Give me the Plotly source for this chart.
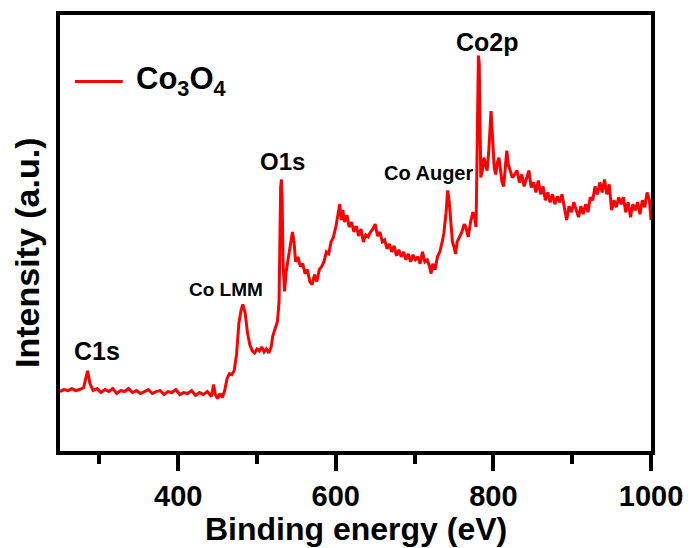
import plotly.graph_objects as go

# Binding energy (eV) and intensity (a.u.)
energy = [250, 255, 260, 265, 270, 275, 280, 285, 288, 292, 297, 302, 307, 312, 317, 322, 327, 332, 337, 342,
          347, 352, 357, 362, 367, 372, 377, 382, 387, 392, 397, 402, 407, 412, 417, 422, 427, 432, 437, 442,
          445, 447, 450, 453, 456, 459, 462, 465, 468, 471, 474, 477, 480, 482, 485, 488, 491, 494, 497, 500,
          503, 506, 509, 512, 515, 518, 520, 522, 524, 526, 528, 529, 530, 531, 532, 533, 535, 537, 539, 542,
          545, 547, 549, 552, 555, 558, 561, 564, 567, 570, 573, 576, 579, 582, 585, 588, 591, 594, 597, 600,
          603, 605, 607, 609, 611, 614, 617, 620, 623, 626, 629, 632, 635, 638, 641, 644, 647, 650, 653, 656,
          659, 662, 665, 668, 671, 674, 677, 680, 683, 686, 689, 692, 695, 698, 701, 704, 707, 710, 713, 716,
          719, 721, 723, 726, 729, 732, 735, 737, 740, 742, 744, 746, 748, 750, 752, 754, 757, 760, 763, 765,
          768, 771, 774, 776, 778, 779, 780, 781, 782, 783, 784, 786, 788, 790, 792, 794, 796, 797, 799, 801,
          803, 805, 807, 809, 811, 813, 815, 817, 819, 821, 824, 827, 830, 833, 836, 839, 842, 845, 848, 851,
          854, 857, 860, 863, 866, 869, 872, 875, 878, 881, 884, 887, 890, 893, 896, 899, 902, 905, 908, 911,
          914, 917, 920, 923, 926, 929, 932, 935, 938, 941, 944, 947, 950, 953, 956, 959, 962, 965, 968, 971,
          974, 977, 980, 983, 986, 989, 992, 995, 998, 1000]
intensity = [39, 41, 40, 42, 40, 41, 43, 60, 47, 40, 42, 38, 41, 39, 42, 37, 40, 39, 42, 38,
             40, 37, 39, 41, 37, 39, 40, 36, 39, 38, 41, 36, 38, 37, 40, 35, 38, 36, 39, 34,
             46, 36, 32, 37, 33, 40, 52, 57, 56, 60, 76, 108, 122, 127, 118, 98, 86, 80, 78, 82,
             80, 84, 79, 82, 78, 84, 95, 100, 106, 110, 130, 190, 245, 253, 230, 170, 140, 160, 170, 185,
             200, 190, 170, 175, 165, 168, 158, 162, 150, 147, 157, 150, 162, 165, 170, 180, 178, 190, 195, 205,
             220, 228, 212, 222, 210, 217, 205, 210, 200, 206, 196, 203, 190, 197, 195, 200, 203, 208, 196, 200,
             190, 192, 183, 188, 180, 186, 176, 182, 175, 180, 172, 178, 170, 177, 172, 175, 168, 180, 170, 172,
             165, 158, 168, 162, 175, 180, 190, 198, 220, 242, 230, 205, 190, 185, 178, 190, 195, 200, 208, 205,
             195, 210, 220, 215, 205, 260, 340, 378, 370, 300, 255, 262, 275, 268, 262, 280, 315, 322, 295, 265,
             258, 270, 275, 262, 250, 246, 265, 282, 268, 262, 255, 258, 262, 250, 258, 246, 255, 262, 245, 250,
             240, 252, 238, 246, 232, 240, 230, 238, 228, 236, 230, 238, 225, 212, 226, 220, 230, 222, 215, 226,
             218, 228, 220, 235, 232, 246, 238, 250, 240, 253, 238, 248, 222, 232, 225, 235, 228, 235, 220, 230,
             215, 228, 222, 230, 218, 232, 225, 240, 232, 212]

peak_labels = ["C1s", "Co LMM", "O1s", "Co Auger", "Co2p"]
peak_x = [297, 461, 532, 718, 793]
peak_y = [80, 142, 271, 260, 392]
peak_size = [25, 19, 24, 20, 25]

x_ticks = [400, 600, 800, 1000]
x_minor = [300, 500, 700, 900]

series_name = 'Co<sub style="font-size:27px">3</sub>O<sub style="font-size:27px">4</sub>'

font_main = "Liberation Sans, Arial, sans-serif"

fig = go.Figure()
fig.add_trace(go.Scatter(
    x=energy, y=intensity, mode="lines",
    line=dict(color="#ff0000", width=3),
    name="Co3O4", showlegend=False,
))

for lab, px, py, sz in zip(peak_labels, peak_x, peak_y, peak_size):
    fig.add_annotation(x=px, y=py, text=lab, showarrow=False,
                       font=dict(family=font_main, size=sz, color="black", weight="bold"))

# legend key (line + label)
fig.add_shape(type="line", xref="paper", yref="paper", x0=0.0253, x1=0.1062, y0=0.8477, y1=0.8477,
              line=dict(color="#ff0000", width=3))
fig.add_annotation(xref="paper", yref="paper", x=0.1248, y=0.8477, xanchor="left", yanchor="middle",
                   text=series_name, showarrow=False,
                   font=dict(family=font_main, size=31, color="black", weight="bold"))

# axis titles
fig.add_annotation(xref="paper", yref="paper", x=0.5, y=-0.178, xanchor="center", yanchor="middle",
                   text="Binding energy (eV)", showarrow=False,
                   font=dict(family=font_main, size=32, color="black", weight="bold"))
fig.add_annotation(xref="paper", yref="paper", x=-0.0556, y=0.4545, xanchor="center", yanchor="middle",
                   text="Intensity (a.u.)", textangle=-90, showarrow=False,
                   font=dict(family=font_main, size=34, color="black", weight="bold"))

fig.update_layout(
    width=694, height=548,
    margin=dict(l=60, r=41, t=11, b=97),
    paper_bgcolor="white", plot_bgcolor="white",
    showlegend=False,
    xaxis=dict(
        range=[250, 1000], tickvals=x_ticks, ticks="outside", ticklen=16, tickwidth=4,
        tickcolor="black", showline=True, linecolor="black", linewidth=4, mirror=True,
        showgrid=False, zeroline=False,
        tickfont=dict(family=font_main, size=29, color="black", weight="bold"),
        minor=dict(tickvals=x_minor, ticks="outside", ticklen=9, tickwidth=4, tickcolor="black"),
    ),
    yaxis=dict(
        range=[-21, 419], showticklabels=False, ticks="", showline=True, linecolor="black",
        linewidth=4, mirror=True, showgrid=False, zeroline=False,
    ),
)

fig.write_html("out.html")
